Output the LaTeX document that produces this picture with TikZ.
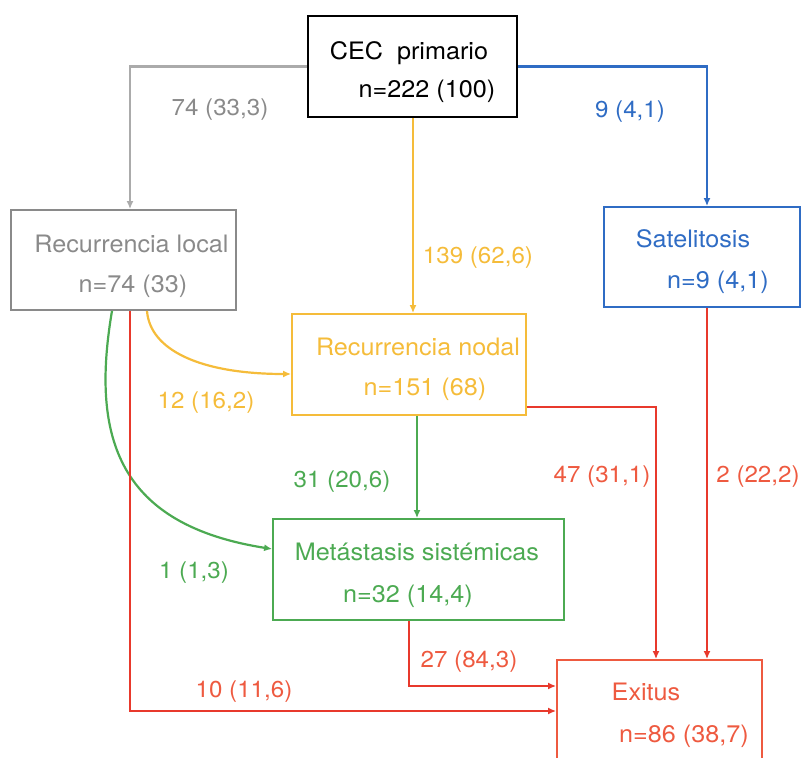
\documentclass[tikz,border=0pt]{standalone}
\usepackage{fontspec}
\setmainfont[FakeStretch=1.05]{TeX Gyre Heros}
\usetikzlibrary{arrows.meta}

\definecolor{cgray}{HTML}{8A8A8A}
\definecolor{cgrayline}{HTML}{ABABAB}
\definecolor{cyellow}{HTML}{F5BC3A}
\definecolor{cblue}{HTML}{2F6CC4}
\definecolor{cgreen}{HTML}{4CAA52}
\definecolor{cred}{HTML}{E8392C}
\definecolor{corange}{HTML}{EE5A40}

\tikzset{
  box/.style={draw, line width=1.8pt, inner sep=0pt},
  flow/.style={line width=2.2pt, ->},
  lbl/.style={inner sep=0pt, anchor=base, font=\fontsize{23}{28}\selectfont},
  txt/.style={inner sep=0pt, anchor=base}
}

\begin{document}
\begin{tikzpicture}[x=1pt, y=-1pt, font=\fontsize{24}{28}\selectfont,
    >={Latex[length=8pt,width=7pt]}]
  \useasboundingbox (0,0) rectangle (801,758);
  \clip (0,0) rectangle (801,758);

  % boxes
  \node[box, minimum width=209pt, minimum height=101pt] (cec) at (412.5,66.5) {};
  \node[box, cgray, minimum width=225pt, minimum height=100pt] (local) at (123.5,260) {};
  \node[box, cyellow, minimum width=234pt, minimum height=101pt] (nodal) at (409,364.5) {};
  \node[box, cblue, minimum width=196pt, minimum height=100pt] (satel) at (702,257) {};
  \node[box, cgreen, minimum width=291pt, minimum height=101pt] (meta) at (418.5,569.5) {};
  \node[box, corange, minimum width=205pt, minimum height=120pt] (exitus) at (659.5,720) {};

  % box texts
  \node[txt] (cec-a) at (409,59) {CEC\ \ primario};
  \node[txt] (cec-b) at (427,97) {n=222 (100)};
  \begin{scope}[every node/.style={txt, cgray}]
    \node (local-a) at (131.5,252) {Recurrencia local};
    \node (local-b) at (133,292) {n=74 (33)};
  \end{scope}
  \begin{scope}[every node/.style={txt, cyellow}]
    \node (nodal-a) at (418,355) {Recurrencia nodal};
    \node (nodal-b) at (425,395) {n=151 (68)};
  \end{scope}
  \begin{scope}[every node/.style={txt, cblue}]
    \node (satel-a) at (693,247) {Satelitosis};
    \node (satel-b) at (718,288) {n=9 (4,1)};
  \end{scope}
  \begin{scope}[every node/.style={txt, cgreen}]
    \node (meta-a) at (417,560) {Metástasis sistémicas};
    \node (meta-b) at (408,602) {n=32 (14,4)};
  \end{scope}
  \begin{scope}[every node/.style={txt, corange}]
    \node (exitus-a) at (646,700) {Exitus};
    \node (exitus-b) at (684,742) {n=86 (38,7)};
  \end{scope}

  % connectors
  \draw[flow, cgrayline] (cec.west) -| (local.north -| 130,0);
  \draw[flow, cyellow] (cec.south -| 413,0) -- (nodal.north -| 413,0);
  \draw[flow, cblue] (cec.east) -| (satel.north -| 707,0);
  \draw[flow, cyellow] (local.south -| 147,0) .. controls (150,350) and (200,374) .. (nodal.west |- 0,374);
  \draw[flow, cgreen] (local.south -| 112,0) .. controls (90,440) and (120,525) .. (meta.west |- 0,549);
  \draw[flow, cred] (local.south -| 130,0) |- (exitus.west |- 0,711);
  \draw[flow, cgreen] (nodal.south -| 417,0) -- (meta.north -| 417,0);
  \draw[flow, cred] (meta.south -| 409,0) |- (exitus.west |- 0,686);
  \draw[flow, cred] (nodal.east |- 0,407) -| (exitus.north -| 656,0);
  \draw[flow, cred] (satel.south -| 707,0) -- (exitus.north -| 707,0);

  % labels
  \node[lbl, cgray] (l-local) at (220,115) {74 (33,3)};
  \node[lbl, cblue] (l-satel) at (630,117) {9 (4,1)};
  \node[lbl, cyellow] (l-nodal) at (478,263) {139 (62,6)};
  \node[lbl, cyellow] (l-ln) at (206,408) {12 (16,2)};
  \node[lbl, cgreen] (l-nm) at (342,487) {31 (20,6)};
  \node[lbl, cgreen] (l-lm) at (194,578) {1 (1,3)};
  \node[lbl, corange] (l-le) at (244,697) {10 (11,6)};
  \node[lbl, corange] (l-ne) at (602,482) {47 (31,1)};
  \node[lbl, corange] (l-se) at (758,482) {2 (22,2)};
  \node[lbl, corange] (l-me) at (469,667) {27 (84,3)};
\end{tikzpicture}
\end{document}
